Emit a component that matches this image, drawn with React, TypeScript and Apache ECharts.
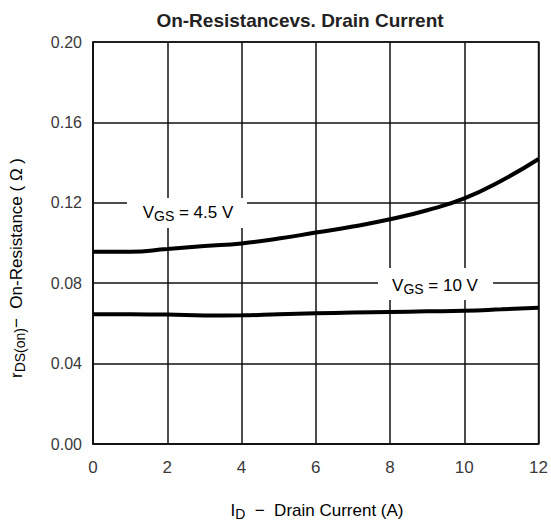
import React, { useEffect, useRef } from "react";
import * as echarts from "echarts";

const currents = [0, 1, 2, 3, 4, 5, 6, 7, 8, 9, 10, 11, 12];
const rds45 = [0.0957, 0.0957, 0.097, 0.0985, 0.0998, 0.1022, 0.1052, 0.1082, 0.1118, 0.1163, 0.1222, 0.131, 0.1418];
const rds10 = [0.0645, 0.0645, 0.0644, 0.0639, 0.064, 0.0645, 0.065, 0.0654, 0.0657, 0.066, 0.0663, 0.067, 0.0678];
const titleText = "On-Resistancevs. Drain Current";
const label45 = ["V", "GS", " = 4.5 V"];
const label10 = ["V", "GS", " = 10 V"];

const FONT = "'Liberation Sans', Arial, sans-serif";
const TXT = "#3a3a3a";

export default function App() {
  const ref = useRef<HTMLDivElement>(null);
  useEffect(() => {
    const chart = echarts.init(ref.current!, null, { renderer: "svg" });
    const rich = {
      n: { fontSize: 17, fontFamily: FONT, color: TXT },
      s: { fontSize: 14, fontFamily: FONT, color: TXT, padding: [8, 0, 0, 0] },
    };
    const richAxis = {
      n: { fontSize: 17, fontFamily: FONT, color: TXT },
      s: { fontSize: 14, fontFamily: FONT, color: TXT, padding: [8, 0, 0, 0] },
    };
    chart.setOption({
      animation: false,
      backgroundColor: "#ffffff",
      grid: { left: 93, right: 12, top: 42, bottom: 80, show: true, borderColor: "#111", borderWidth: 1.5, backgroundColor: "transparent" },
      xAxis: {
        type: "value",
        min: 0,
        max: 12,
        interval: 2,
        axisLine: { show: true, lineStyle: { color: "#111", width: 1.5 } },
        axisTick: { show: false },
        splitLine: { show: true, lineStyle: { color: "#111", width: 1.5 } },
        axisLabel: { fontSize: 17, fontFamily: FONT, color: TXT, margin: 15 },
      },
      yAxis: {
        type: "value",
        min: 0,
        max: 0.2,
        interval: 0.04,
        axisLine: { show: true, lineStyle: { color: "#111", width: 1.5 } },
        axisTick: { show: false },
        splitLine: { show: true, lineStyle: { color: "#111", width: 1.5 } },
        axisLabel: { fontSize: 16, fontFamily: FONT, color: TXT, margin: 11, formatter: (v: number) => v.toFixed(2) },
      },
      series: [
        {
          type: "line",
          data: currents.map((x, i) => [x, rds45[i]]),
          smooth: true,
          showSymbol: false,
          lineStyle: { color: "#000", width: 4 },
          z: 5,
        },
        {
          type: "line",
          data: currents.map((x, i) => [x, rds10[i]]),
          smooth: true,
          showSymbol: false,
          lineStyle: { color: "#000", width: 4 },
          z: 5,
        },
      ],
      graphic: [
        {
          type: "text",
          x: 300,
          y: 20,
          style: { text: titleText, fontSize: 19, fontWeight: "bold", fontFamily: FONT, fill: "#222", align: "center", verticalAlign: "middle" },
        },
        { type: "rect", shape: { x: 127, y: 198, width: 120, height: 30 }, style: { fill: "#fff" }, z: 3 },
        {
          type: "text",
          x: 188,
          y: 212,
          z: 4,
          style: { text: `{n|${label45[0]}}{s|${label45[1]}}{n|${label45[2]}}`, rich, align: "center", verticalAlign: "middle" },
        },
        { type: "rect", shape: { x: 378, y: 268, width: 115, height: 32 }, style: { fill: "#fff" }, z: 3 },
        {
          type: "text",
          x: 435,
          y: 285,
          z: 4,
          style: { text: `{n|${label10[0]}}{s|${label10[1]}}{n|${label10[2]}}`, rich, align: "center", verticalAlign: "middle" },
        },
        {
          type: "text",
          x: 317,
          y: 510,
          style: {
            text: "{n|I}{s|D}{n|  −  Drain Current (A)}",
            rich: richAxis,
            align: "center",
            verticalAlign: "middle",
          },
        },
        {
          type: "text",
          x: 16,
          y: 268,
          rotation: Math.PI / 2,
          style: {
            text: "{n|r}{s|DS(on)}{n|−  On-Resistance ( Ω )}",
            rich: richAxis,
            align: "center",
            verticalAlign: "middle",
          },
        },
      ],
    });
    return () => chart.dispose();
  }, []);
  return (
    <div
      ref={ref}
      style={{ position: "absolute", left: 0, top: 0, width: 551, height: 524, background: "#fff" }}
    />
  );
}
